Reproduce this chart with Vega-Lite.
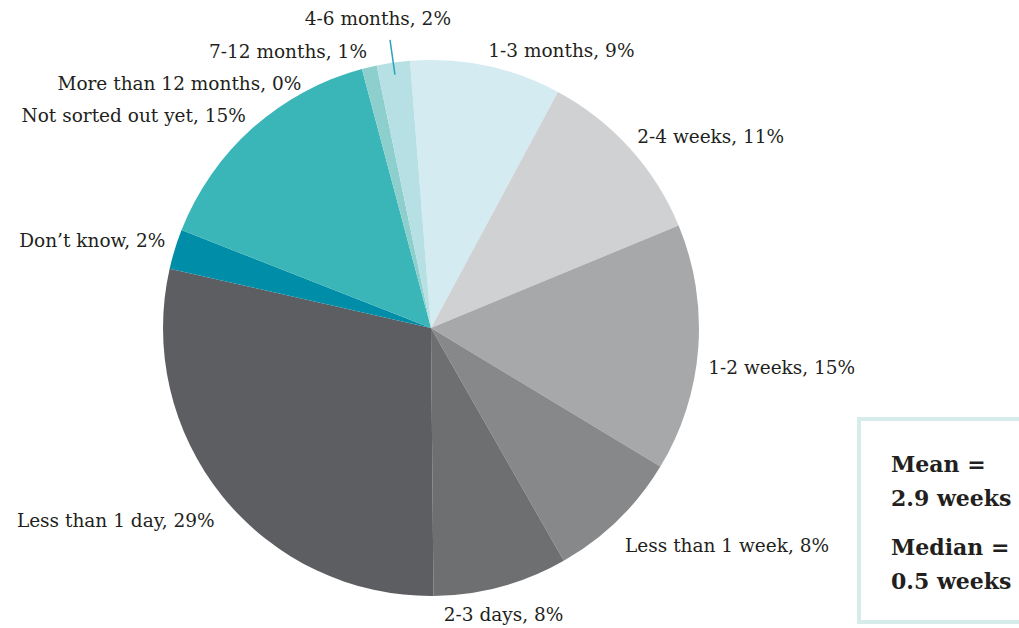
{
  "$schema": "https://vega.github.io/schema/vega-lite/v6.json",
  "padding": 0,
  "bounds": "flush",
  "spacing": 0,
  "background": "white",
  "config": {"view": {"stroke": null}},
  "hconcat": [
    {
      "width": 859,
      "height": 628,
      "data": {
        "values": [
          {"idx": 1, "category": "1-3 months", "pct": 9.1, "label": "1-3 months, 9%"},
          {"idx": 2, "category": "2-4 weeks", "pct": 10.9, "label": "2-4 weeks, 11%"},
          {"idx": 3, "category": "1-2 weeks", "pct": 14.9, "label": "1-2 weeks, 15%"},
          {"idx": 4, "category": "Less than 1 week", "pct": 8.1, "label": "Less than 1 week, 8%"},
          {"idx": 5, "category": "2-3 days", "pct": 8.1, "label": "2-3 days, 8%"},
          {"idx": 6, "category": "Less than 1 day", "pct": 28.7, "label": "Less than 1 day, 29%"},
          {"idx": 7, "category": "Don’t know", "pct": 2.4, "label": "Don’t know, 2%"},
          {"idx": 8, "category": "Not sorted out yet", "pct": 14.9, "label": "Not sorted out yet, 15%"},
          {"idx": 9, "category": "More than 12 months", "pct": 0.0, "label": "More than 12 months, 0%"},
          {"idx": 10, "category": "7-12 months", "pct": 0.9, "label": "7-12 months, 1%"},
          {"idx": 11, "category": "4-6 months", "pct": 2.0, "label": "4-6 months, 2%"}
        ]
      },
      "encoding": {
        "theta": {"field": "pct", "type": "quantitative", "stack": true, "scale": {"domain": [0, 100], "range": [-0.0785, 6.2047]}},
        "order": {"field": "idx", "type": "quantitative"},
        "detail": {"field": "category", "type": "nominal"}
      },
      "layer": [
        {
          "mark": {"type": "arc", "outerRadius": 268, "xOffset": 1.5, "yOffset": 14},
          "encoding": {
            "color": {
              "field": "category", "type": "nominal", "legend": null,
              "scale": {
                "domain": ["1-3 months", "2-4 weeks", "1-2 weeks", "Less than 1 week", "2-3 days", "Less than 1 day", "Don’t know", "Not sorted out yet", "More than 12 months", "7-12 months", "4-6 months"],
                "range": ["#d4ebf2", "#d0d1d3", "#a7a8aa", "#87888a", "#6e6f71", "#5d5e61", "#008da8", "#3ab6b8", "#62c2c0", "#8ccfcc", "#b6e0e4"]
              }
            }
          }
        },
        {
          "mark": {"type": "arc", "innerRadius": 256, "outerRadius": 291, "padAngle": 1, "filled": false, "strokeWidth": 1.5, "xOffset": 1.5, "yOffset": 14},
          "encoding": {
            "stroke": {"condition": {"test": "datum.category == '4-6 months'", "value": "#2aa3bb"}, "value": "transparent"}
          }
        },
        {
          "mark": {
            "type": "text", "radius": 278, "xOffset": 1.5, "yOffset": 14,
            "font": "DejaVu Serif", "fontSize": 18.5, "color": "#231f20",
            "align": {"expr": "abs(sin((datum.pct_start + datum.pct_end) * 0.0314159 - 0.0785)) < 0.15 || cos((datum.pct_start + datum.pct_end) * 0.0314159 - 0.0785) < -0.9 ? 'center' : (sin((datum.pct_start + datum.pct_end) * 0.0314159 - 0.0785) > 0 ? 'left' : 'right')"},
            "baseline": {"expr": "cos((datum.pct_start + datum.pct_end) * 0.0314159 - 0.0785) > 0 ? 'bottom' : 'top'"},
            "dx": {"expr": "datum.category == '4-6 months' ? -14 : datum.category == 'More than 12 months' ? -58 : 0"},
            "dy": {"expr": "(cos((datum.pct_start + datum.pct_end) * 0.0314159 - 0.0785) > 0 ? 5 : 10) + (datum.category == '4-6 months' ? -29 : datum.category == 'More than 12 months' ? 30 : 0)"}
          },
          "encoding": {"text": {"field": "label", "type": "nominal"}}
        }
      ]
    },
    {
      "spacing": 0,
      "vconcat": [
        {
          "width": 162,
          "height": 417,
          "data": {"values": [{"blank": ""}]},
          "mark": {"type": "text"},
          "encoding": {"text": {"field": "blank", "type": "nominal"}}
        },
        {
          "width": 162,
          "height": 203,
          "view": {"stroke": "#d5ecea", "strokeWidth": 4},
          "data": {
            "values": [
              {"grp": "a", "txt": "Mean =\n2.9 weeks"},
              {"grp": "b", "txt": "Median =\n0.5 weeks"}
            ]
          },
          "mark": {
            "type": "text", "align": "left", "baseline": "middle", "lineBreak": "\n", "lineHeight": 34,
            "font": "DejaVu Serif", "fontWeight": "bold", "fontSize": 22, "color": "#231f20",
            "dx": -49, "dy": -14
          },
          "encoding": {
            "y": {"field": "grp", "type": "nominal", "axis": null, "scale": {"type": "point", "padding": 0.723}},
            "text": {"field": "txt", "type": "nominal"}
          }
        }
      ]
    }
  ]
}
